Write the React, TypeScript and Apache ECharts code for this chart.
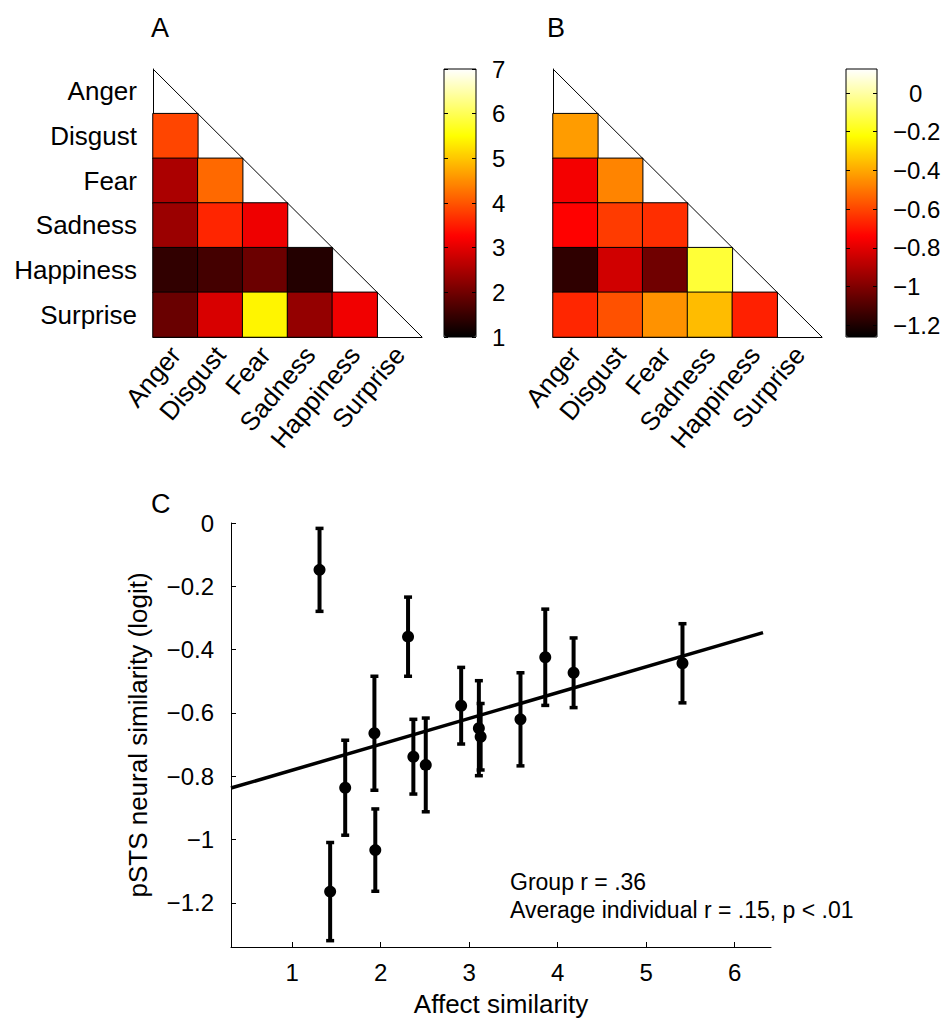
import React, { useEffect, useRef } from "react";
import * as echarts from "echarts";

const emotions = ["Anger", "Disgust", "Fear", "Sadness", "Happiness", "Surprise"];

// lower-triangle emotion pairs (row, column)
const pairRows = ["Disgust", "Fear", "Fear", "Sadness", "Sadness", "Sadness", "Happiness", "Happiness", "Happiness", "Happiness", "Surprise", "Surprise", "Surprise", "Surprise", "Surprise"];
const pairCols = ["Anger", "Anger", "Disgust", "Anger", "Disgust", "Fear", "Anger", "Disgust", "Fear", "Sadness", "Anger", "Disgust", "Fear", "Sadness", "Happiness"];
const affectSimilarity = [3.86, 2.51, 4.18, 2.37, 3.58, 3.11, 1.43, 1.6, 1.94, 1.31, 1.93, 2.91, 5.41, 2.31, 3.13];
const neuralSimilarity = [-0.424, -0.764, -0.473, -0.738, -0.62, -0.648, -1.164, -0.836, -1.033, -0.148, -0.664, -0.577, -0.443, -0.359, -0.675];
const neuralError = [0.152, 0.148, 0.11, 0.118, 0.147, 0.15, 0.155, 0.15, 0.13, 0.131, 0.18, 0.121, 0.125, 0.125, 0.105];

const affectColorbarTicks = [1, 2, 3, 4, 5, 6, 7];
const neuralColorbarTicks = [0, -0.2, -0.4, -0.6, -0.8, -1, -1.2];
const scatterXTicks = [1, 2, 3, 4, 5, 6];
const scatterYTicks = [0, -0.2, -0.4, -0.6, -0.8, -1, -1.2];

const fitLineX = [0.31, 6.32];
const fitLineY = [-0.837, -0.346];

const hotColors = ["#000000", "#550000", "#aa0000", "#ff0000", "#ff5500", "#ffaa00", "#ffff00", "#ffff80", "#ffffff"];

const FONT = "'Liberation Sans', Arial, Helvetica, sans-serif";
const minus = (v: number) => String(v).replace("-", "\u2212");

export default function App() {
  const ref = useRef<HTMLDivElement>(null);
  useEffect(() => {
    if (!ref.current) return;
    const chart = echarts.init(ref.current, null, { renderer: "svg" });
    const n = emotions.length;
    const heatA = pairRows.map((r, i) => [pairCols[i], r, affectSimilarity[i]]);
    const heatB = pairRows.map((r, i) => [pairCols[i], r, neuralSimilarity[i]]);
    const scatterData = affectSimilarity.map((x, i) => [x, neuralSimilarity[i]]);
    const errData = affectSimilarity.map((x, i) => [x, neuralSimilarity[i] - neuralError[i], neuralSimilarity[i] + neuralError[i]]);
    const fitData = fitLineX.map((x, i) => [x, fitLineY[i]]);

    const catX = (gridIndex: number) => ({
      type: "category",
      gridIndex,
      data: emotions,
      axisLine: { show: true, onZero: false, lineStyle: { color: "#000", width: 1 } },
      axisTick: { show: false },
      splitLine: { show: false },
      axisLabel: { interval: 0, rotate: 50, fontSize: 26, color: "#000", fontFamily: FONT, margin: 13 },
    });
    const catY = (gridIndex: number, showLabel: boolean) => ({
      type: "category",
      gridIndex,
      data: emotions,
      inverse: true,
      axisLine: { show: true, onZero: false, lineStyle: { color: "#000", width: 1 } },
      axisTick: { show: false },
      splitLine: { show: false },
      axisLabel: { show: showLabel, interval: 0, fontSize: 26, color: "#000", fontFamily: FONT, margin: 16 },
    });
    const hiddenVal = (gridIndex: number, min: number, max: number) => ({
      type: "value",
      gridIndex,
      min,
      max,
      show: false,
    });
    const cbAxis = (gridIndex: number, min: number, max: number, ticks: number[], position: string, showLabel: boolean, labelFormatter?: any, rich?: any) => ({
      type: "value",
      gridIndex,
      min,
      max,
      position,
      z: 10,
      axisLine: { show: false, onZero: false },
      splitLine: { show: false },
      axisTick: { show: true, inside: true, length: 4, customValues: ticks, lineStyle: { color: "#000", width: 1 } },
      axisLabel: { show: showLabel, customValues: ticks, fontSize: 24, color: "#000", fontFamily: FONT, margin: 16, align: "left", formatter: labelFormatter, rich },
    });

    const option: any = {
      animation: false,
      textStyle: { fontFamily: FONT },
      grid: [
        { left: 153, top: 69, width: 269, height: 268 },
        { left: 553, top: 69, width: 269, height: 268 },
        { left: 444, top: 69, width: 32, height: 268, show: true, borderColor: "#000", borderWidth: 1, backgroundColor: "transparent", z: 10 },
        { left: 846, top: 69, width: 31, height: 268, show: true, borderColor: "#000", borderWidth: 1, backgroundColor: "transparent", z: 10 },
        { left: 231, top: 523, width: 540, height: 424 },
      ],
      xAxis: [
        catX(0),
        hiddenVal(0, 0, n),
        catX(1),
        hiddenVal(1, 0, n),
        hiddenVal(2, 0, 1),
        hiddenVal(3, 0, 1),
        {
          type: "value",
          gridIndex: 4,
          min: 0.31,
          max: 6.41,
          name: "Affect similarity",
          nameLocation: "middle",
          nameGap: 44,
          nameTextStyle: { fontSize: 26, color: "#000", fontFamily: FONT },
          axisLine: { show: true, onZero: false, lineStyle: { color: "#000", width: 1 } },
          axisTick: { show: true, inside: true, length: 5, customValues: scatterXTicks, lineStyle: { color: "#000" } },
          axisLabel: { customValues: scatterXTicks, fontSize: 24, color: "#000", fontFamily: FONT, margin: 13 },
          splitLine: { show: false },
        },
      ],
      yAxis: [
        catY(0, true),
        hiddenVal(0, 0, n),
        catY(1, false),
        hiddenVal(1, 0, n),
        cbAxis(2, 1, 7, affectColorbarTicks, "right", true, (v: number) => String(v)),
        cbAxis(2, 1, 7, affectColorbarTicks, "left", false),
        cbAxis(3, -1.26, 0.124, neuralColorbarTicks, "right", true, (v: number) => (v === 0 ? "{p|0}" : minus(v)), { p: { padding: [0, 0, 0, 16], fontSize: 24, fontFamily: FONT, color: "#000" } }),
        cbAxis(3, -1.26, 0.124, neuralColorbarTicks, "left", false),
        {
          type: "value",
          gridIndex: 4,
          min: -1.339,
          max: 0,
          name: "pSTS neural similarity (logit)",
          nameLocation: "middle",
          nameGap: 80,
          nameTextStyle: { fontSize: 26, color: "#000", fontFamily: FONT },
          axisLine: { show: true, onZero: false, lineStyle: { color: "#000", width: 1 } },
          axisTick: { show: true, inside: true, length: 5, customValues: scatterYTicks, lineStyle: { color: "#000" } },
          axisLabel: { customValues: scatterYTicks, fontSize: 24, color: "#000", fontFamily: FONT, margin: 17, formatter: (v: number) => minus(v) },
          splitLine: { show: false },
        },
      ],
      visualMap: [
        {
          type: "continuous",
          seriesIndex: 0,
          min: 1,
          max: 7,
          left: 444,
          top: 69,
          itemWidth: 32,
          itemHeight: 268,
          padding: 0,
          calculable: false,
          hoverLink: false,
          inRange: { color: hotColors },
        },
        {
          type: "continuous",
          seriesIndex: 2,
          min: -1.26,
          max: 0.124,
          left: 846,
          top: 69,
          itemWidth: 31,
          itemHeight: 268,
          padding: 0,
          calculable: false,
          hoverLink: false,
          inRange: { color: hotColors },
        },
      ],
      graphic: [
        { type: "text", left: 151, top: 14, style: { text: "A", fontSize: 27, fill: "#000", fontFamily: FONT } },
        { type: "text", left: 547, top: 14, style: { text: "B", fontSize: 27, fill: "#000", fontFamily: FONT } },
        { type: "text", left: 151, top: 490, style: { text: "C", fontSize: 27, fill: "#000", fontFamily: FONT } },
        {
          type: "text",
          left: 510,
          top: 868,
          style: { text: "Group r = .36\nAverage individual r = .15, p < .01", fontSize: 23, lineHeight: 28, fill: "#000", fontFamily: FONT },
        },
      ],
      series: [
        {
          type: "heatmap",
          xAxisIndex: 0,
          yAxisIndex: 0,
          data: heatA,
          itemStyle: { borderColor: "#000", borderWidth: 1 },
          emphasis: { disabled: true },
        },
        {
          type: "line",
          xAxisIndex: 1,
          yAxisIndex: 1,
          data: [[0, n], [n, 0]],
          symbol: "none",
          lineStyle: { color: "#000", width: 1 },
          clip: false,
          silent: true,
        },
        {
          type: "heatmap",
          xAxisIndex: 2,
          yAxisIndex: 2,
          data: heatB,
          itemStyle: { borderColor: "#000", borderWidth: 1 },
          emphasis: { disabled: true },
        },
        {
          type: "line",
          xAxisIndex: 3,
          yAxisIndex: 3,
          data: [[0, n], [n, 0]],
          symbol: "none",
          lineStyle: { color: "#000", width: 1 },
          clip: false,
          silent: true,
        },
        {
          type: "line",
          xAxisIndex: 6,
          yAxisIndex: 8,
          data: fitData,
          symbol: "none",
          lineStyle: { color: "#000", width: 3.5 },
          silent: true,
        },
        {
          type: "custom",
          xAxisIndex: 6,
          yAxisIndex: 8,
          data: errData,
          silent: true,
          renderItem: (params: any, api: any) => {
            const x = api.value(0);
            const lo = api.coord([x, api.value(1)]);
            const hi = api.coord([x, api.value(2)]);
            const capW = 8;
            const capH = 3.5;
            return {
              type: "group",
              children: [
                { type: "line", shape: { x1: hi[0], y1: hi[1], x2: lo[0], y2: lo[1] }, style: { stroke: "#000", lineWidth: 4 } },
                { type: "rect", shape: { x: hi[0] - capW / 2, y: hi[1] - capH / 2, width: capW, height: capH }, style: { fill: "#000" } },
                { type: "rect", shape: { x: lo[0] - capW / 2, y: lo[1] - capH / 2, width: capW, height: capH }, style: { fill: "#000" } },
              ],
            };
          },
        },
        {
          type: "scatter",
          xAxisIndex: 6,
          yAxisIndex: 8,
          data: scatterData,
          symbol: "circle",
          symbolSize: 12,
          itemStyle: { color: "#000", opacity: 1 },
          silent: true,
        },
      ],
    };
    chart.setOption(option);
    return () => chart.dispose();
  }, []);
  return <div ref={ref} style={{ position: "absolute", left: 0, top: 0, width: 948, height: 1019, background: "#fff" }} />;
}
